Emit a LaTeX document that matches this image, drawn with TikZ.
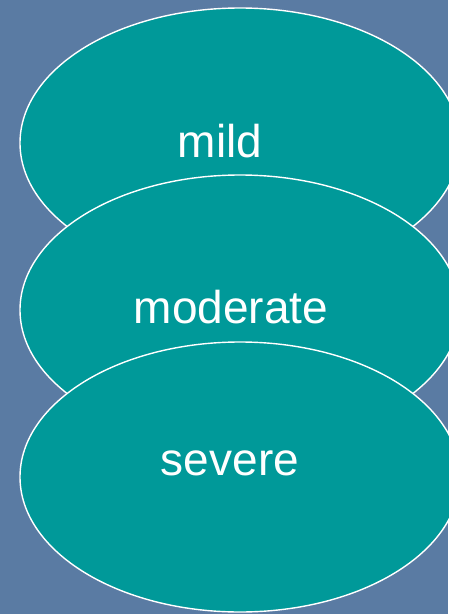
\documentclass[tikz,border=0pt]{standalone}
\usepackage{fontspec}
\setmainfont{Liberation Sans}
\usetikzlibrary{shapes.geometric}
\definecolor{bgblue}{HTML}{5A7BA3}
\definecolor{tealfill}{HTML}{009999}
\begin{document}
\begin{tikzpicture}[x=1pt,y=-1pt,
  oval/.style={ellipse,draw=white,line width=1.4pt,fill=tealfill,minimum width=440pt,minimum height=270pt,inner sep=0pt},
  lbl/.style={text=white,anchor=base,font=\fontsize{46}{55}\selectfont,inner sep=0pt}]
\fill[bgblue] (0,0) rectangle (448,614);
\useasboundingbox (0,0) rectangle (448,614);
\node[oval] (e1) at (240,143) {};
\node[oval] (e2) at (240,310) {};
\node[oval] (e3) at (240,477) {};
\node[lbl] (t1) at (220,157) {mild};
\node[lbl] (t2) at (231,323) {moderate};
\node[lbl] (t3) at (230,475) {severe};
\end{tikzpicture}
\end{document}
